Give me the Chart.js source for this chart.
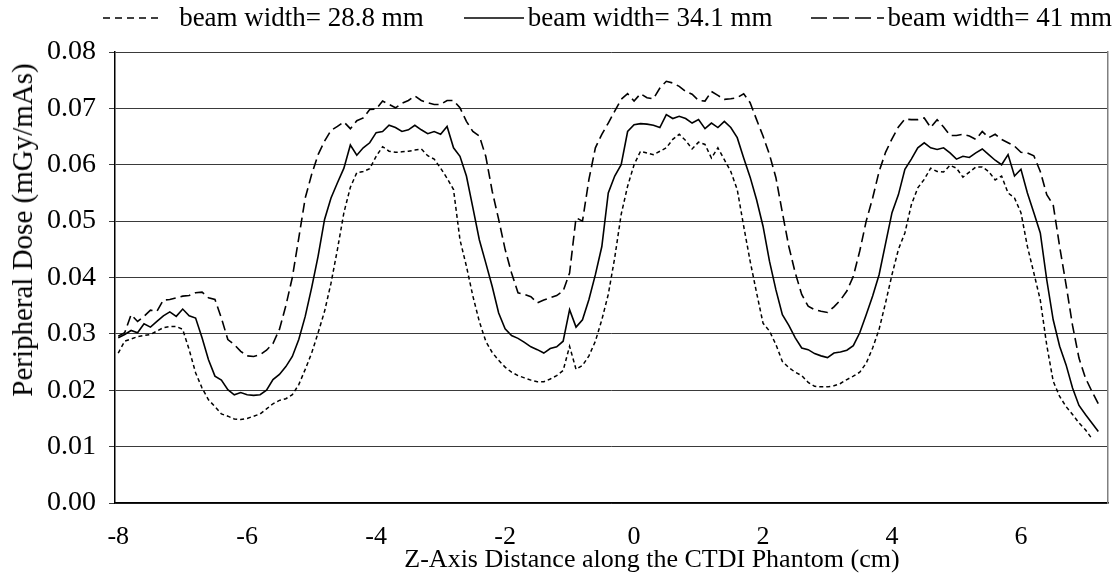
<!DOCTYPE html>
<html><head><meta charset="utf-8">
<script src="https://cdn.jsdelivr.net/npm/chart.js@4.4.1/dist/chart.umd.min.js"></script>
<style>
html,body{margin:0;padding:0;background:#fff;}
#wrap{position:relative;width:1116px;height:585px;font-family:"Liberation Serif","Times New Roman",serif;color:#000;}
#legend{position:absolute;top:2px;right:4px;display:flex;align-items:center;font-size:27px;white-space:nowrap;}
.item{display:flex;align-items:center;}
#xtitle{position:absolute;left:652px;top:545px;transform:translateX(-50%);font-size:26px;line-height:28px;white-space:nowrap;}
#ytitle{position:absolute;left:22px;top:230px;transform:translate(-50%,-50%) rotate(-90deg);font-size:29px;line-height:30px;white-space:nowrap;}
</style></head><body>
<div id="wrap"><canvas id="c" width="1116" height="585"></canvas><div id="legend"></div><div id="xtitle"></div><div id="ytitle"></div></div>
<script>
const xs = [
-8.0,-7.9,-7.8,-7.7,-7.6,-7.5,-7.4,-7.3,-7.2,-7.1,
-7.0,-6.9,-6.8,-6.7,-6.6,-6.5,-6.4,-6.3,-6.2,-6.1,
-6.0,-5.9,-5.8,-5.7,-5.6,-5.5,-5.4,-5.3,-5.2,-5.1,
-5.0,-4.9,-4.8,-4.7,-4.6,-4.5,-4.4,-4.3,-4.2,-4.1,
-4.0,-3.9,-3.8,-3.7,-3.6,-3.5,-3.4,-3.3,-3.2,-3.1,
-3.0,-2.9,-2.8,-2.7,-2.6,-2.5,-2.4,-2.3,-2.2,-2.1,
-2.0,-1.9,-1.8,-1.7,-1.6,-1.5,-1.4,-1.3,-1.2,-1.1,
-1.0,-0.9,-0.8,-0.7,-0.6,-0.5,-0.4,-0.3,-0.2,-0.1,
0.0,0.1,0.2,0.3,0.4,0.5,0.6,0.7,0.8,0.9,
1.0,1.1,1.2,1.3,1.4,1.5,1.6,1.7,1.8,1.9,
2.0,2.1,2.2,2.3,2.4,2.5,2.6,2.7,2.8,2.9,
3.0,3.1,3.2,3.3,3.4,3.5,3.6,3.7,3.8,3.9,
4.0,4.1,4.2,4.3,4.4,4.5,4.6,4.7,4.8,4.9,
5.0,5.1,5.2,5.3,5.4,5.5,5.6,5.7,5.8,5.9,
6.0,6.1,6.2,6.3,6.4,6.5,6.6,6.7,6.8,6.9,
7.0,7.1,7.2];

const dose288 = [
0.0266,0.0287,0.0291,0.0295,0.0297,0.0299,0.0305,0.0311,0.0313,0.0313,
0.0308,0.0272,0.0231,0.0204,0.0183,0.0171,0.0158,0.0154,0.0149,0.0148,
0.0150,0.0154,0.0158,0.0167,0.0176,0.0182,0.0185,0.0192,0.0210,0.0237,
0.0266,0.0302,0.0340,0.0390,0.0450,0.0515,0.0560,0.0586,0.0588,0.0593,
0.0615,0.0632,0.0624,0.0622,0.0623,0.0624,0.0626,0.0628,0.0616,0.0610,
0.0594,0.0576,0.0556,0.0467,0.0420,0.0367,0.0322,0.0287,0.0267,0.0253,
0.0241,0.0232,0.0226,0.0222,0.0218,0.0215,0.0215,0.0220,0.0226,0.0235,
0.0278,0.0237,0.0244,0.0261,0.0287,0.0325,0.0370,0.0435,0.0512,0.0562,
0.0600,0.0624,0.0621,0.0618,0.0624,0.0630,0.0645,0.0654,0.0643,0.0628,
0.0640,0.0636,0.0612,0.0630,0.0609,0.0588,0.0556,0.0491,0.0429,0.0373,
0.0319,0.0305,0.0281,0.0251,0.0240,0.0232,0.0226,0.0214,0.0207,0.0206,
0.0206,0.0208,0.0212,0.0219,0.0225,0.0232,0.0248,0.0275,0.0308,0.0355,
0.0405,0.0450,0.0479,0.0529,0.0559,0.0574,0.0594,0.0588,0.0587,0.0599,
0.0594,0.0578,0.0587,0.0596,0.0596,0.0588,0.0573,0.0580,0.0550,0.0541,
0.0515,0.0455,0.0408,0.0360,0.0280,0.0216,0.0189,0.0171,0.0157,0.0142,
0.0130,0.0114,null];

const dose341 = [
0.0293,0.0299,0.0306,0.0302,0.0318,0.0312,0.0322,0.0332,0.0339,0.0331,
0.0344,0.0332,0.0328,0.0293,0.0254,0.0225,0.0218,0.0201,0.0192,0.0196,
0.0192,0.0191,0.0192,0.0200,0.0219,0.0228,0.0242,0.0260,0.0290,0.0331,
0.0382,0.0438,0.0503,0.0541,0.0568,0.0594,0.0635,0.0617,0.0630,0.0639,
0.0657,0.0659,0.0670,0.0666,0.0659,0.0662,0.0670,0.0662,0.0655,0.0659,
0.0654,0.0668,0.0630,0.0615,0.0580,0.0524,0.0467,0.0426,0.0384,0.0337,
0.0309,0.0297,0.0292,0.0285,0.0277,0.0272,0.0266,0.0274,0.0277,0.0287,
0.0343,0.0312,0.0325,0.0361,0.0405,0.0455,0.0550,0.0580,0.0600,0.0659,
0.0671,0.0673,0.0672,0.0670,0.0666,0.0689,0.0682,0.0686,0.0682,0.0674,
0.0680,0.0664,0.0674,0.0666,0.0677,0.0666,0.0648,0.0612,0.0578,0.0538,
0.0491,0.0429,0.0378,0.0334,0.0315,0.0293,0.0275,0.0272,0.0265,0.0261,
0.0258,0.0266,0.0268,0.0271,0.0279,0.0302,0.0334,0.0367,0.0405,0.0460,
0.0515,0.0547,0.0592,0.0610,0.0630,0.0639,0.0630,0.0627,0.0630,0.0621,
0.0610,0.0615,0.0613,0.0621,0.0628,0.0618,0.0608,0.0600,0.0618,0.0580,
0.0592,0.0550,0.0515,0.0479,0.0396,0.0325,0.0278,0.0245,0.0204,0.0173,
0.0157,0.0142,0.0127];

const dose41 = [
0.0296,0.0302,0.0334,0.0322,0.0331,0.0342,0.0340,0.0360,0.0361,0.0364,
0.0367,0.0368,0.0373,0.0374,0.0364,0.0361,0.0328,0.0290,0.0281,0.0269,
0.0261,0.0260,0.0263,0.0271,0.0283,0.0308,0.0350,0.0400,0.0470,0.0541,
0.0583,0.0618,0.0642,0.0661,0.0668,0.0676,0.0664,0.0678,0.0683,0.0698,
0.0699,0.0713,0.0707,0.0701,0.0709,0.0714,0.0722,0.0714,0.0710,0.0707,
0.0707,0.0714,0.0714,0.0701,0.0677,0.0659,0.0651,0.0615,0.0553,0.0503,
0.0450,0.0408,0.0373,0.0370,0.0366,0.0355,0.0360,0.0364,0.0368,0.0376,
0.0408,0.0506,0.0500,0.0574,0.0630,0.0654,0.0674,0.0695,0.0716,0.0726,
0.0713,0.0726,0.0719,0.0717,0.0736,0.0748,0.0745,0.0739,0.0730,0.0725,
0.0714,0.0713,0.0730,0.0723,0.0716,0.0717,0.0719,0.0726,0.0710,0.0680,
0.0651,0.0618,0.0577,0.0515,0.0455,0.0408,0.0370,0.0349,0.0343,0.0340,
0.0338,0.0348,0.0360,0.0376,0.0402,0.0447,0.0500,0.0541,0.0588,0.0622,
0.0646,0.0667,0.0681,0.0680,0.0680,0.0683,0.0666,0.0680,0.0667,0.0652,
0.0652,0.0654,0.0651,0.0645,0.0659,0.0648,0.0654,0.0645,0.0639,0.0633,
0.0622,0.0621,0.0616,0.0588,0.0547,0.0529,0.0455,0.0387,0.0315,0.0257,
0.0222,0.0198,0.0176];

const seriesLabels = ["beam width= 28.8 mm","beam width= 34.1 mm","beam width= 41 mm"];
const xTicks = [-8,-6,-4,-2,0,2,4,6];
const yTicks = [0,0.01,0.02,0.03,0.04,0.05,0.06,0.07,0.08];
const xTitle = "Z-Axis Distance along the CTDI Phantom (cm)";
const yTitle = "Peripheral Dose (mGy/mAs)";

const FAMILY = "'Liberation Serif', 'Times New Roman', serif";
const styles = [
  {dash:[4,3], legendDash:[7,5], width:1.5, sample:58, gapBefore:0, gapAfter:18},
  {dash:[], legendDash:[], width:1.6, sample:60, gapBefore:40, gapAfter:4},
  {dash:[10,5], legendDash:[16,6], width:1.6, sample:73, gapBefore:38, gapAfter:4}
];
const seriesData = [dose288, dose341, dose41];

const datasets = seriesData.map((arr,i)=>({
  label: seriesLabels[i],
  data: xs.map((x,j)=>({x:x, y:arr[j]})),
  borderColor:'#000',
  borderWidth: styles[i].width,
  borderDash: styles[i].dash,
  pointRadius:0,
  fill:false,
  tension:0,
  spanGaps:false
}));

// HTML legend and axis titles (real text)
const leg = document.getElementById('legend');
seriesLabels.forEach((lab,i)=>{
  const st = styles[i];
  const it = document.createElement('div'); it.className='item';
  it.style.marginLeft = st.gapBefore+'px';
  const dash = st.legendDash.length ? st.legendDash.join(',') : 'none';
  it.innerHTML = '<svg width="'+st.sample+'" height="6" style="margin-right:'+st.gapAfter+'px"><line x1="0" y1="3" x2="'+st.sample+'" y2="3" stroke="#000" stroke-width="'+st.width+'" stroke-dasharray="'+dash+'"/></svg><span></span>';
  it.querySelector('span').textContent = lab;
  leg.appendChild(it);
});
document.getElementById('xtitle').textContent = xTitle;
document.getElementById('ytitle').textContent = yTitle;

new Chart(document.getElementById('c'), {
  type:'line',
  data:{datasets},
  options:{
    responsive:false,
    animation:false,
    events:[],
    layout:{padding:{top:52, right:8, left:0, bottom:0}},
    plugins:{legend:{display:false}, tooltip:{enabled:false}},
    scales:{
      x:{
        type:'linear', min:-8.05, max:7.35,
        afterBuildTicks:s=>{ s.ticks = xTicks.map(v=>({value:v})); },
        afterFit:s=>{ s.height = 82; },
        grid:{display:false},
        border:{display:true, color:'#000', width:1.5},
        ticks:{font:{family:FAMILY,size:26}, color:'#000', padding:11, maxRotation:0, autoSkip:false, callback:v=>String(v)},
        title:{display:false}
      },
      y:{
        type:'linear', min:0, max:0.08,
        afterBuildTicks:s=>{ s.ticks = yTicks.map(v=>({value:v})); },
        afterFit:s=>{ s.width = 115; },
        grid:{color:'#3a3a3a', lineWidth:1, tickLength:6, drawTicks:true},
        border:{display:true, color:'#000', width:1.5},
        ticks:{font:{family:FAMILY,size:28}, color:'#000', padding:13, callback:v=>v.toFixed(2)},
        title:{display:false}
      },
      y2:{
        type:'linear', position:'right', min:0, max:0.08,
        afterFit:s=>{ s.width = 0; },
        grid:{display:false, drawOnChartArea:false},
        border:{display:true, color:'#808080', width:1.5},
        ticks:{display:false}
      }
    }
  }
});
</script>
</body></html>
